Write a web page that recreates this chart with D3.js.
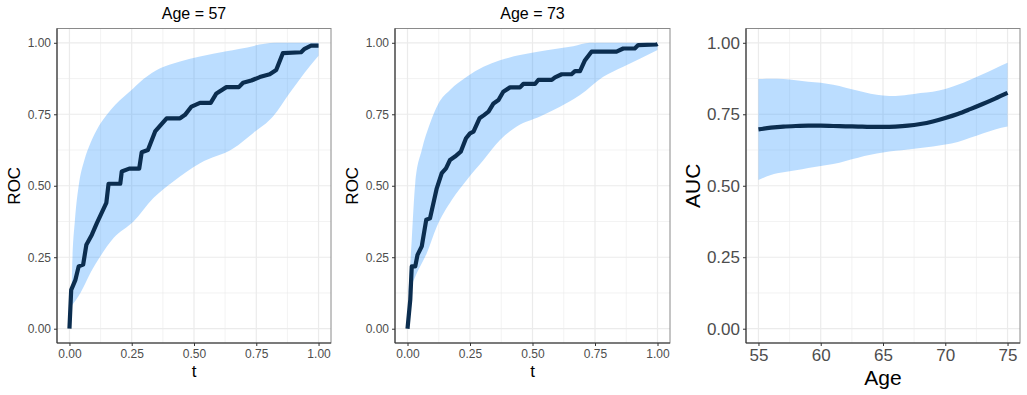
<!DOCTYPE html>
<html lang="en">
<head>
<meta charset="utf-8" />
<title>ROC and AUC by age</title>
<style type="text/css">
  body { margin: 0; background: #fff; }
  text { font-family: "Liberation Sans", Arial, Helvetica, sans-serif; }
</style>
</head>
<body>
<div id="graph"></div>
<script src="https://d3js.org/d3.v7.min.js"></script>
<script type="text/javascript">
  const WIDTH = 1027, HEIGHT = 395;

  // --- Age = 57: ROC curve + band
  const roc57T = [0, 0.007, 0.024, 0.037, 0.055, 0.068, 0.09, 0.11, 0.148, 0.157, 0.204, 0.21, 0.24, 0.28, 0.29, 0.315, 0.344, 0.39, 0.444, 0.464, 0.49, 0.524, 0.567, 0.59, 0.63, 0.68, 0.697, 0.73, 0.764, 0.804, 0.83, 0.857, 0.93, 0.944, 0.97, 1];
  const roc57V = [0, 0.136, 0.171, 0.218, 0.224, 0.294, 0.329, 0.369, 0.44, 0.507, 0.507, 0.55, 0.56, 0.56, 0.617, 0.625, 0.69, 0.736, 0.736, 0.748, 0.777, 0.79, 0.79, 0.823, 0.845, 0.845, 0.86, 0.868, 0.88, 0.89, 0.905, 0.964, 0.967, 0.979, 0.99, 0.99];
  const up57T = [0.007, 0.011, 0.022, 0.037, 0.06, 0.084, 0.11, 0.15, 0.184, 0.257, 0.297, 0.364, 0.444, 0.524, 0.63, 0.68, 0.828, 1];
  const up57V = [0.09, 0.22, 0.38, 0.50, 0.59, 0.649, 0.696, 0.748, 0.783, 0.841, 0.873, 0.911, 0.935, 0.952, 0.97, 0.978, 1.0, 1.0];
  const lo57T = [0.007, 0.044, 0.084, 0.124, 0.177, 0.257, 0.337, 0.417, 0.524, 0.657, 0.737, 0.817, 0.884, 0.964, 1];
  const lo57V = [0.078, 0.125, 0.195, 0.253, 0.317, 0.375, 0.457, 0.515, 0.579, 0.63, 0.684, 0.742, 0.824, 0.917, 0.955];

  // --- Age = 73
  const roc73T = [0, 0.011, 0.017, 0.031, 0.04, 0.057, 0.075, 0.09, 0.117, 0.137, 0.154, 0.17, 0.19, 0.213, 0.234, 0.25, 0.264, 0.288, 0.306, 0.324, 0.344, 0.364, 0.383, 0.41, 0.45, 0.463, 0.51, 0.523, 0.577, 0.59, 0.617, 0.656, 0.67, 0.69, 0.71, 0.736, 0.836, 0.863, 0.909, 0.923, 0.996, 1];
  const roc73V = [0, 0.101, 0.218, 0.218, 0.258, 0.288, 0.381, 0.386, 0.491, 0.544, 0.561, 0.59, 0.602, 0.619, 0.666, 0.683, 0.689, 0.736, 0.747, 0.759, 0.788, 0.8, 0.829, 0.844, 0.844, 0.856, 0.856, 0.87, 0.87, 0.879, 0.89, 0.89, 0.901, 0.901, 0.939, 0.969, 0.969, 0.98, 0.98, 0.992, 0.994, 0.996];
  const up73T = [0.004, 0.017, 0.031, 0.057, 0.09, 0.124, 0.17, 0.237, 0.304, 0.37, 0.45, 0.557, 0.663, 0.73, 1];
  const up73V = [0.13, 0.311, 0.509, 0.625, 0.718, 0.788, 0.835, 0.881, 0.916, 0.939, 0.957, 0.974, 0.988, 1.0, 1.0];
  const lo73T = [0.004, 0.037, 0.077, 0.117, 0.177, 0.237, 0.304, 0.37, 0.437, 0.53, 0.61, 0.69, 0.783, 0.863, 1];
  const lo73V = [0.125, 0.194, 0.264, 0.357, 0.45, 0.52, 0.59, 0.66, 0.707, 0.742, 0.776, 0.817, 0.881, 0.916, 0.975];

  // --- AUC by age
  const ages = [55, 56, 57, 58, 59, 60, 61, 62, 63, 64, 65, 66, 67, 68, 69, 70, 71, 72, 73, 74, 75];
  const auc = [0.697, 0.703, 0.707, 0.709, 0.710, 0.710, 0.709, 0.708, 0.707, 0.706, 0.706, 0.707, 0.710, 0.716, 0.725, 0.737, 0.751, 0.768, 0.786, 0.805, 0.825];
  const aucUp = [0.873, 0.874, 0.873, 0.869, 0.864, 0.860, 0.853, 0.843, 0.832, 0.822, 0.816, 0.814, 0.818, 0.824, 0.829, 0.838, 0.853, 0.871, 0.890, 0.910, 0.930];
  const aucLo = [0.520, 0.538, 0.547, 0.554, 0.562, 0.569, 0.576, 0.587, 0.598, 0.608, 0.616, 0.622, 0.627, 0.632, 0.637, 0.644, 0.653, 0.668, 0.683, 0.697, 0.707];

  const rocTicks = [0, 0.25, 0.5, 0.75, 1];
  const rocMinor = [0.125, 0.375, 0.625, 0.875];
  const ageTicks = [55, 60, 65, 70, 75];
  const ageMinor = [57.5, 62.5, 67.5, 72.5];

  const zip = (a, b) => a.map((v, i) => [v, b[i]]);

  var svg = d3.select("#graph").append("svg")
    .attr("width", WIDTH)
    .attr("height", HEIGHT);
  svg.append("rect").attr("width", WIDTH).attr("height", HEIGHT).attr("fill", "#fff");

  const drawPanel = (p) => {
    var w = p.right - p.left, h = p.bottom - p.top;
    var x = d3.scaleLinear().domain(p.xDomain).range([p.left + w / 22, p.right - w / 22]);
    var y = d3.scaleLinear().domain([0, 1]).range([p.bottom - h / 22, p.top + h / 22]);
    var g = svg.append("g");

    // grid
    g.selectAll(".minx").data(p.xMinor).enter().append("line")
      .attr("x1", d => x(d)).attr("x2", d => x(d)).attr("y1", p.top).attr("y2", p.bottom)
      .attr("stroke", "#ebebeb").attr("stroke-width", 0.6);
    g.selectAll(".miny").data(rocMinor).enter().append("line")
      .attr("y1", d => y(d)).attr("y2", d => y(d)).attr("x1", p.left).attr("x2", p.right)
      .attr("stroke", "#ebebeb").attr("stroke-width", 0.6);
    g.selectAll(".majx").data(p.xTicks).enter().append("line")
      .attr("x1", d => x(d)).attr("x2", d => x(d)).attr("y1", p.top).attr("y2", p.bottom)
      .attr("stroke", "#ebebeb").attr("stroke-width", 1.2);
    g.selectAll(".majy").data(rocTicks).enter().append("line")
      .attr("y1", d => y(d)).attr("y2", d => y(d)).attr("x1", p.left).attr("x2", p.right)
      .attr("stroke", "#ebebeb").attr("stroke-width", 1.2);

    // band: smooth upper edge, then smooth lower edge back
    var edge = d3.line().x(d => x(d[0])).y(d => y(d[1])).curve(d3.curveMonotoneX);
    var upPath = edge(p.upper);
    var loPath = edge(p.lower.slice().reverse()).replace(/^M/, "L");
    g.append("path")
      .attr("d", upPath + loPath + "Z")
      .attr("fill", "#1E90FF").attr("fill-opacity", 0.3);

    // curve
    g.append("path")
      .attr("d", d3.line().x(d => x(d[0])).y(d => y(d[1])).curve(p.curve)(p.line))
      .attr("fill", "none").attr("stroke", "#0b2d4f").attr("stroke-width", 4.2)
      .attr("stroke-linejoin", "round").attr("stroke-linecap", "butt");

    // border
    g.append("rect").attr("x", p.left).attr("y", p.top).attr("width", w).attr("height", h)
      .attr("fill", "none").attr("stroke", "#8a8a8a").attr("stroke-width", 1);

    // axes
    var ax = g.append("g").attr("transform", "translate(0," + p.bottom + ")")
      .call(d3.axisBottom(x).tickValues(p.xTicks).tickSize(3).tickPadding(3).tickFormat(p.xFormat));
    var ay = g.append("g").attr("transform", "translate(" + p.left + ",0)")
      .call(d3.axisLeft(y).tickValues(rocTicks).tickSize(3).tickPadding(3).tickFormat(d3.format(".2f")));
    [ax, ay].forEach(a => {
      a.select(".domain").attr("stroke", "#333").attr("stroke-width", 1.1);
      a.selectAll(".tick line").attr("stroke", "#333");
      a.selectAll("text").attr("fill", "#4d4d4d").style("font-size", p.tickSize + "px")
        .style("font-family", "'Liberation Sans', Arial, sans-serif");
    });
    ax.select(".domain").attr("d", "M" + p.left + ",0H" + p.right);
    ay.select(".domain").attr("d", "M0," + p.top + "V" + p.bottom);

    // titles
    g.append("text").attr("x", (p.left + p.right) / 2).attr("y", p.xLabelY)
      .attr("text-anchor", "middle").style("font-size", p.labelSize + "px").text(p.xLabel);
    g.append("text").attr("transform", "translate(" + p.yLabelX + "," + ((p.top + p.bottom) / 2) + ") rotate(-90)")
      .attr("text-anchor", "middle").style("font-size", p.labelSize + "px").text(p.yLabel);
    if (p.title) {
      g.append("text").attr("x", (p.left + p.right) / 2).attr("y", 19)
        .attr("text-anchor", "middle").style("font-size", "16px").text(p.title);
    }
  };

  drawPanel({
    left: 57, right: 331, top: 28.5, bottom: 343, xDomain: [0, 1],
    xTicks: rocTicks, xMinor: rocMinor, xFormat: d3.format(".2f"),
    upper: zip(up57T, up57V), lower: zip(lo57T, lo57V), line: zip(roc57T, roc57V),
    curve: d3.curveLinear, tickSize: 12, labelSize: 17,
    xLabel: "t", xLabelY: 377, yLabel: "ROC", yLabelX: 20, title: "Age = 57"
  });
  drawPanel({
    left: 395, right: 670, top: 28.5, bottom: 343, xDomain: [0, 1],
    xTicks: rocTicks, xMinor: rocMinor, xFormat: d3.format(".2f"),
    upper: zip(up73T, up73V), lower: zip(lo73T, lo73V), line: zip(roc73T, roc73V),
    curve: d3.curveLinear, tickSize: 12, labelSize: 17,
    xLabel: "t", xLabelY: 377, yLabel: "ROC", yLabelX: 357.5, title: "Age = 73"
  });
  drawPanel({
    left: 746, right: 1020, top: 28.5, bottom: 343, xDomain: [55, 75],
    xTicks: ageTicks, xMinor: ageMinor, xFormat: d3.format("d"),
    upper: zip(ages, aucUp), lower: zip(ages, aucLo), line: zip(ages, auc),
    curve: d3.curveMonotoneX, tickSize: 17, labelSize: 21,
    xLabel: "Age", xLabelY: 385, yLabel: "AUC", yLabelX: 700, title: null
  });
</script>
</body>
</html>
